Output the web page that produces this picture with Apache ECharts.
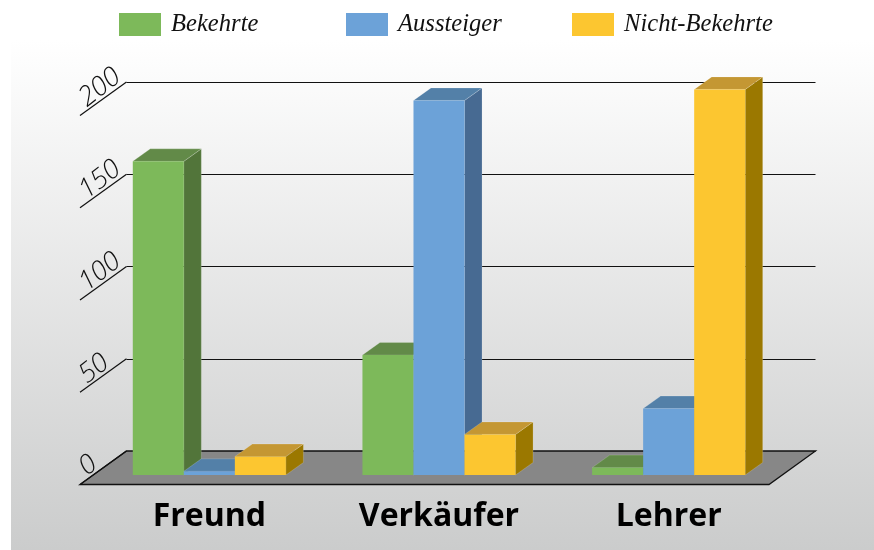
<!DOCTYPE html>
<html><head><meta charset="utf-8">
<style>html,body{margin:0;padding:0;background:#fff}#c{width:874px;height:550px}</style>
<script src="https://cdn.jsdelivr.net/npm/echarts@6/dist/echarts.min.js"></script></head>
<body><div id="c"></div>
<script>
const categories = ['Freund','Verkäufer','Lehrer'];
const seriesNames = ['Bekehrte','Aussteiger','Nicht-Bekehrte'];
const bekehrte = [170, 65, 4];
const aussteiger = [2, 203, 36];
const nichtBekehrte = [10, 22, 209];
const yTicks = [0, 50, 100, 150, 200];

const palette = [
  {front:'#7DB95A', top:'#628A48', side:'#52753A'},
  {front:'#6CA2D8', top:'#5380A8', side:'#476A92'},
  {front:'#FCC630', top:'#C49733', side:'#9B7800'}
];
const D = {fx:-14.5, fy:9.5, bx:32, by:-24, bw:17.5, bh:12.5};
const chart = echarts.init(document.getElementById('c'), null, {renderer:'canvas'});

function barRender(idx){
  return function(params, api){
    const c = api.coord([api.value(0), api.value(1)]);
    const b = api.coord([api.value(0), 0]);
    const w = api.size([1,0])[0] * 0.2222;
    const x0 = c[0] + (idx-1.5)*w, x1 = x0 + w, yT = c[1], yB = b[1];
    const P = palette[idx];
    const dx = D.bw, dy = D.bh;
    const edge = 'rgba(255,255,255,0.22)';
    return {type:'group', children:[
      {type:'polygon', shape:{points:[[x1,yT],[x1+dx,yT-dy],[x1+dx,yB-dy],[x1,yB]]}, style:{fill:P.side, stroke:edge, lineWidth:0.8}},
      {type:'polygon', shape:{points:[[x0,yT],[x1,yT],[x1+dx,yT-dy],[x0+dx,yT-dy]]}, style:{fill:P.top, stroke:edge, lineWidth:0.8}},
      {type:'rect', shape:{x:x0,y:yT,width:w,height:yB-yT}, style:{fill:P.front}}
    ]};
  };
}
function floorRender(params, api){
  const y = api.coord([0,0])[1];
  const cs = params.coordSys, l = cs.x, r = cs.x + cs.width;
  return {type:'group', children:[
    {type:'polygon', shape:{points:[[l+D.fx,y+D.fy],[r+D.fx,y+D.fy],[r+D.bx,y+D.by],[l+D.bx,y+D.by]]},
      style:{fill:'#878787', stroke:'#111', lineWidth:1.3}}
  ]};
}
function tickRender(params, api){
  const y = api.coord([0, api.value(0)])[1];
  const l = params.coordSys.x;
  return {type:'line', shape:{x1:l+D.fx,y1:y+D.fy,x2:l+D.bx,y2:y+D.by}, style:{stroke:'#111', lineWidth:1.2}};
}

const rows = [bekehrte, aussteiger, nichtBekehrte];
const legendLeft = [114, 341, 567];
chart.setOption({
  animation:false,
  backgroundColor:'#fff',
  graphic:[{type:'rect', z:-10, silent:true, shape:{x:11,y:40,width:863,height:510},
    style:{fill:new echarts.graphic.LinearGradient(0,0,0,1,[{offset:0,color:'#ffffff'},{offset:1,color:'#cbcccc'}])}}],
  legend:seriesNames.map((n,i)=>({data:[n], left:legendLeft[i], top:7, itemWidth:42, itemHeight:23, itemGap:0, icon:'rect',
    textStyle:{fontFamily:'Liberation Serif', fontStyle:'italic', fontSize:24.6, color:'#111', padding:[4,0,0,5]}})),
  grid:[
    {left:94.5, top:106, width:689, height:369},
    {left:126.5, top:82, width:689, height:369}
  ],
  xAxis:[
    {type:'category', gridIndex:0, data:categories, axisLine:{show:false}, axisTick:{show:false}, splitLine:{show:false},
      axisLabel:{margin:26, fontFamily:'Open Sans', fontWeight:'bold', fontSize:32, color:'#000'}},
    {type:'category', gridIndex:1, data:categories, show:false}
  ],
  yAxis:[
    {type:'value', gridIndex:0, min:0, max:200, interval:50, axisLine:{show:false}, axisTick:{show:false}, splitLine:{show:false},
      axisLabel:{margin:8.5, rotate:38, align:'left', verticalAlign:'bottom', lineHeight:12, fontFamily:'Open Sans', fontStyle:'italic', fontWeight:300, fontSize:27, color:'#111'}},
    {type:'value', gridIndex:1, min:0, max:200, interval:50, axisLine:{show:false}, axisTick:{show:false}, axisLabel:{show:false},
      splitLine:{show:true, lineStyle:{color:'#111', width:1}}}
  ],
  series:[
    {type:'custom', name:'Boden', xAxisIndex:0, yAxisIndex:0, renderItem:floorRender, data:[[0]], silent:true, clip:false},
    {type:'custom', name:'Achse', xAxisIndex:0, yAxisIndex:0, renderItem:tickRender, data:yTicks.map(t=>[t]), encode:{y:0}, silent:true, clip:false},
    ...seriesNames.map((n,i)=>({
      type:'custom', name:n, xAxisIndex:0, yAxisIndex:0, clip:false,
      itemStyle:{color:palette[i].front},
      renderItem:barRender(i),
      data:rows[i].map((v,k)=>[k,v]), encode:{x:0,y:1}
    }))
  ]
});
</script></body></html>
